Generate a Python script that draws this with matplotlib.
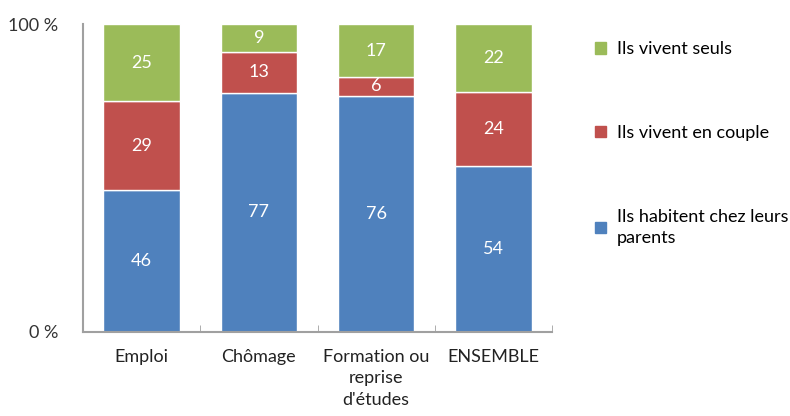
import numpy as np
import matplotlib.pyplot as plt
from matplotlib.patches import Patch

plt.rcParams['font.family'] = ['Lato', 'DejaVu Sans']

categories = ["Emploi", "Chômage", "Formation ou\nreprise\nd'études", "ENSEMBLE"]
parents = [46, 77, 76, 54]
couple = [29, 13, 6, 24]
seuls = [25, 9, 17, 22]

series = [
    ("Ils habitent chez leurs\nparents", parents, "#4F81BD"),
    ("Ils vivent en couple", couple, "#C0504D"),
    ("Ils vivent seuls", seuls, "#9BBB59"),
]

# 100 % stacked: each bar is scaled by its own total
totals = np.sum([s[1] for s in series], axis=0).astype(float)

fig = plt.figure(figsize=(7.9, 4.16), dpi=100)
ax = fig.add_axes([0.105, 0.202, 0.594, 0.74])

x = np.arange(len(categories))
bottom = np.zeros(len(categories))
for label, vals, color in series:
    share = np.array(vals, dtype=float) / totals * 100
    ax.bar(x, share, 0.65, bottom=bottom, color=color, edgecolor="white", linewidth=1)
    for xi, b, h, v in zip(x, bottom, share, vals):
        ax.text(xi, b + h / 2, f"{v}", ha="center", va="center",
                color="white", fontsize=13)
    bottom += share

ax.set_xlim(-0.5, len(categories) - 0.5)
ax.set_ylim(0, 100)
ax.set_yticks([0, 100])
ax.set_yticklabels(["0 %", "100 %"], fontsize=13, color="#333333")
ax.tick_params(axis="y", length=0, pad=18)

# category labels, with small ticks between groups
ax.set_xticks(x)
ax.set_xticklabels(categories, fontsize=13, color="#222222", linespacing=1.45)
ax.tick_params(axis="x", length=0, pad=12)
ax.set_xticks(np.arange(len(categories) + 1) - 0.5, minor=True)
ax.tick_params(axis="x", which="minor", length=5, direction="in", color="#A0A0A0")

for side in ["top", "right"]:
    ax.spines[side].set_visible(False)
for side in ["left", "bottom"]:
    ax.spines[side].set_color("#A0A0A0")
    ax.spines[side].set_linewidth(1.5)

handles = [Patch(color=c, label=l) for l, _, c in reversed(series)]
leg = fig.legend(handles=handles, loc="upper left", bbox_to_anchor=(0.733, 0.94),
                 frameon=False, fontsize=13, handlelength=0.6, handleheight=0.6,
                 handletextpad=0.6, labelspacing=3.75)
for t in leg.get_texts():
    t.set_linespacing(1.45)

fig.savefig("out.png", dpi=100)
